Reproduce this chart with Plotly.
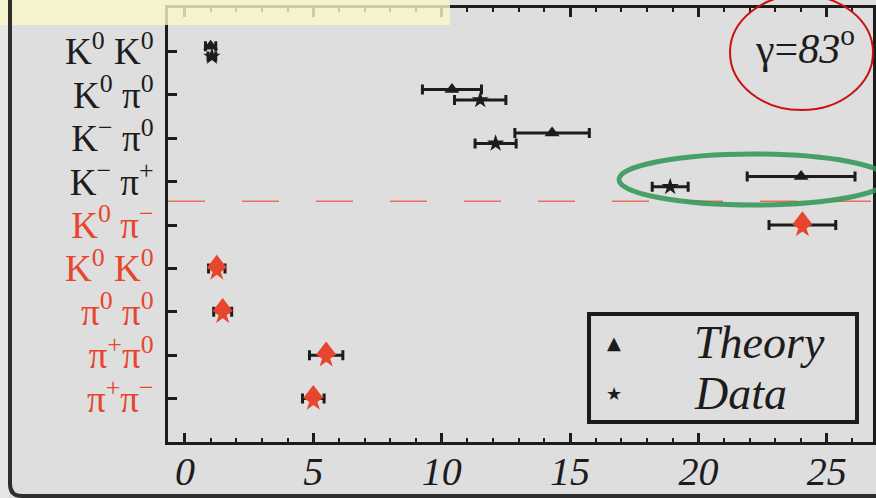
import plotly.graph_objects as go

# ---------------- data ----------------
channels = ["π<sup>+</sup>π<sup>−</sup>", "π<sup>+</sup>π<sup>0</sup>", "π<sup>0</sup> π<sup>0</sup>",
            "K<sup>0</sup> K<sup>0</sup>", "K<sup>0</sup> π<sup>−</sup>",
            "K<sup>−</sup> π<sup>+</sup>", "K<sup>−</sup> π<sup>0</sup>", "K<sup>0</sup> π<sup>0</sup>",
            "K<sup>0</sup> K<sup>0</sup>"]
channel_pos = [1, 2, 3, 4, 5, 6, 7, 8, 9]
is_red = [True, True, True, True, True, False, False, False, False]

# black (upper) group: positions 6..9
black_pos = [6, 7, 8, 9]
black_theory = [24.0, 14.3, 10.4, 1.0]
black_theory_err = [2.1, 1.45, 1.15, 0.2]
black_data = [18.9, 12.1, 11.5, 1.05]
black_data_err = [0.7, 0.8, 1.0, 0.15]

# red (lower) group: positions 1..5
red_pos = [1, 2, 3, 4, 5]
red_theory = [5.0, 5.5, 1.47, 1.24, 24.05]
red_data = [5.0, 5.5, 1.47, 1.24, 24.05]
red_err = [0.42, 0.65, 0.35, 0.32, 1.3]

x_ticks = [0, 5, 10, 15, 20, 25]
divider_y = 5.55
gamma_label = "γ=<i>83</i><sup>o</sup>"
legend_labels = ["Theory", "Data"]
legend_symbols = ["▲", "★"]

# ---------------- style ----------------
BG = "#dedede"
INK = "#1c1c1c"
RED = "#e8452f"
SERIF = "Liberation Serif, Times New Roman, serif"

W, H = 876, 498
L, R, T, B = 168, 3, 8, 56
PW, PH = W - L - R, H - T - B


def px(x):
    return (x - L) / PW


def py(y):
    return (H - B - y) / PH


fig = go.Figure()

off_t, off_d = 0.12, -0.12

fig.add_trace(go.Scatter(
    x=black_theory, y=[p + off_t for p in black_pos], mode="markers", name="Theory",
    marker=dict(symbol="triangle-up", size=13, color=INK),
    error_x=dict(type="data", array=black_theory_err, color=INK, thickness=3, width=5),
))
fig.add_trace(go.Scatter(
    x=black_data, y=[p + off_d for p in black_pos], mode="markers", name="Data",
    marker=dict(symbol="star", size=13, color=INK),
    error_x=dict(type="data", array=black_data_err, color=INK, thickness=3, width=5),
))
# red group error bars
fig.add_trace(go.Scatter(
    x=red_data, y=red_pos, mode="markers",
    marker=dict(size=2, color="rgba(0,0,0,0)"),
    error_x=dict(type="data", array=red_err, color=INK, thickness=3, width=5),
))
fig.add_trace(go.Scatter(
    x=red_theory, y=[p + 0.12 for p in red_pos], mode="markers",
    marker=dict(symbol="triangle-up", size=17, color=RED),
))
fig.add_trace(go.Scatter(
    x=red_data, y=[p - 0.05 for p in red_pos], mode="markers",
    marker=dict(symbol="star", size=16, color=RED),
))

ticktext = [f"<span style='color:{RED}'>{c}</span>" if r else c for c, r in zip(channels, is_red)]

fig.update_layout(
    width=W, height=H,
    margin=dict(l=L, r=R, t=T, b=B, autoexpand=False),
    paper_bgcolor=BG, plot_bgcolor=BG,
    font=dict(family=SERIF, color=INK),
    showlegend=False,
    xaxis=dict(
        range=[-0.66, 26.8], tickvals=x_ticks, ticktext=[str(v) for v in x_ticks],
        tickfont=dict(size=40, style="italic", family=SERIF, color=INK),
        ticks="inside", ticklen=9, tickwidth=3, tickcolor=INK,
        minor=dict(dtick=1, ticks="inside", ticklen=4, tickwidth=2, tickcolor=INK),
        showline=True, linewidth=3, linecolor=INK, mirror="ticks",
        showgrid=False, zeroline=False, automargin=False, ticklabelstandoff=-8,
    ),
    yaxis=dict(
        range=[0, 10], tickvals=channel_pos, ticktext=ticktext,
        tickfont=dict(size=37, family=SERIF, color=INK),
        ticks="inside", ticklen=9, tickwidth=3, tickcolor=INK,
        showline=True, linewidth=3, linecolor=INK, mirror=True,
        showgrid=False, zeroline=False, ticklabelstandoff=4, automargin=False,
    ),
)

shapes = []
# dashed divider
shapes.append(dict(type="line", xref="paper", yref="y", x0=0, x1=1, y0=divider_y, y1=divider_y,
                   line=dict(color="#e8705f", width=1.5, dash="37px,37px")))
# red circle around gamma label
shapes.append(dict(type="circle", xref="paper", yref="paper", x0=px(730), x1=px(873), y0=py(110), y1=py(-5),
                   line=dict(color="#cc1010", width=2)))
# green ellipse around K- pi+
shapes.append(dict(type="circle", xref="paper", yref="paper", x0=px(619), x1=px(888), y0=py(205), y1=py(154),
                   line=dict(color="rgba(52,150,88,0.88)", width=5)))
# legend box
shapes.append(dict(type="rect", xref="paper", yref="paper", x0=px(589), x1=px(857), y0=py(422), y1=py(314),
                   line=dict(color=INK, width=4)))
# yellow highlight
shapes.append(dict(type="rect", xref="paper", yref="paper", x0=px(0), x1=px(450), y0=py(25), y1=py(-2),
                   fillcolor="rgba(250,248,200,0.8)", line=dict(width=0), layer="above"))
# slide left border with rounded corner
shapes.append(dict(type="rect", xref="paper", yref="paper", x0=px(-2), x1=px(9), y0=py(500), y1=py(-2),
                   fillcolor="#e6e6e6", line=dict(width=0), layer="below"))
path = (f"M {px(10)},{py(-5)} L {px(10)},{py(484)} "
        f"Q {px(10)},{py(496)} {px(22)},{py(496)} L {px(880)},{py(496)}")
shapes.append(dict(type="path", xref="paper", yref="paper", path=path,
                   line=dict(color="#2e2e2e", width=4)))
fig.update_layout(shapes=shapes)

fig.add_annotation(xref="paper", yref="paper", x=px(805), y=py(45), text=gamma_label,
                   showarrow=False, font=dict(size=42, family=SERIF, color=INK),
                   xanchor="center", yanchor="middle")

# manual legend
legend_rows = [342, 393]
for lab, sym, yc in zip(legend_labels, legend_symbols, legend_rows):
    fig.add_annotation(xref="paper", yref="paper", x=px(614), y=py(yc), text=sym,
                       showarrow=False, font=dict(size=18, family="DejaVu Sans", color=INK),
                       xanchor="center", yanchor="middle")
    fig.add_annotation(xref="paper", yref="paper", x=px(692), y=py(yc), text=lab,
                       showarrow=False, font=dict(size=46, family=SERIF, style="italic", color=INK),
                       xanchor="left", yanchor="middle")

fig.write_html("out.html")
